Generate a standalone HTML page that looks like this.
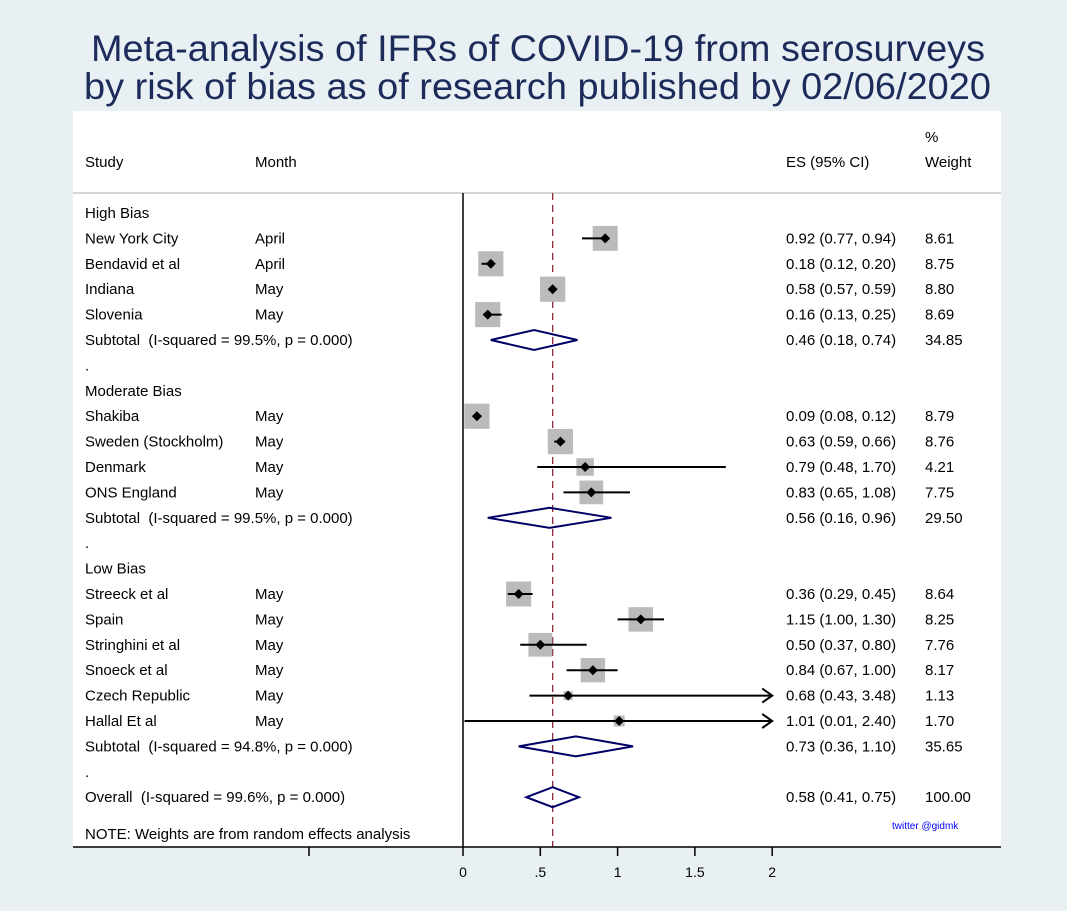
<!DOCTYPE html>
<html><head><meta charset="utf-8"><style>
body{margin:0;background:#e8f0f3;}
svg{display:block;font-family:"Liberation Sans",Arial,sans-serif;}
text{white-space:pre;}
</style></head><body>
<svg id="chart" width="1067" height="911" viewBox="0 0 1067 911" xmlns="http://www.w3.org/2000/svg">
<rect x="0" y="0" width="1067" height="911" fill="#e8f0f3"/>
<text x="91" y="61" textLength="894" lengthAdjust="spacingAndGlyphs" font-size="37" fill="#1c2b5a">Meta-analysis of IFRs of COVID-19 from serosurveys</text>
<text x="84" y="99" textLength="907" lengthAdjust="spacingAndGlyphs" font-size="37" fill="#1c2b5a">by risk of bias as of research published by 02/06/2020</text>
<rect x="73" y="111" width="928" height="736" fill="#fff"/>
<line x1="73" y1="193" x2="1001" y2="193" stroke="#c8c8c8" stroke-width="1.5"/>
<g font-size="15" fill="#000">
<text x="85" y="167">Study</text>
<text x="255" y="167">Month</text>
<text x="786" y="167">ES (95% CI)</text>
<text x="925" y="142">%</text>
<text x="925" y="167">Weight</text>
</g>
<g id="rows"></g>
<g id="marks"></g>
<line x1="463" y1="193" x2="463" y2="847" stroke="#000" stroke-width="1.5"/>
<line x1="73" y1="847" x2="1001" y2="847" stroke="#000" stroke-width="1.5"/>
<line x1="309" y1="847" x2="309" y2="856" stroke="#000" stroke-width="1.5"/>
<g id="ticks"></g>
<text x="85" y="839" font-size="15">NOTE: Weights are from random effects analysis</text>
<text x="892" y="829" font-size="10" fill="#0000ff">twitter @gidmk</text>
</svg>
<script>
const labels=["High Bias","New York City","Bendavid et al","Indiana","Slovenia","Subtotal  (I-squared = 99.5%, p = 0.000)",".","Moderate Bias","Shakiba","Sweden (Stockholm)","Denmark","ONS England","Subtotal  (I-squared = 99.5%, p = 0.000)",".","Low Bias","Streeck et al","Spain","Stringhini et al","Snoeck et al","Czech Republic","Hallal Et al","Subtotal  (I-squared = 94.8%, p = 0.000)",".","Overall  (I-squared = 99.6%, p = 0.000)"];
const months=["","April","April","May","May","","","","May","May","May","May","","","","May","May","May","May","May","May","","",""];
const kinds=["h","s","s","s","s","d","b","h","s","s","s","s","d","b","h","s","s","s","s","s","s","d","b","d"];
const es=[null,0.92,0.18,0.58,0.16,0.46,null,null,0.09,0.63,0.79,0.83,0.56,null,null,0.36,1.15,0.50,0.84,0.68,1.01,0.73,null,0.58];
const lo=[null,0.77,0.12,0.57,0.13,0.18,null,null,0.08,0.59,0.48,0.65,0.16,null,null,0.29,1.00,0.37,0.67,0.43,0.01,0.36,null,0.41];
const hi=[null,0.94,0.20,0.59,0.25,0.74,null,null,0.12,0.66,1.70,1.08,0.96,null,null,0.45,1.30,0.80,1.00,3.48,2.40,1.10,null,0.75];
const weights=[null,8.61,8.75,8.80,8.69,34.85,null,null,8.79,8.76,4.21,7.75,29.50,null,null,8.64,8.25,7.76,8.17,1.13,1.70,35.65,null,100.00];
const tickVals=[0,0.5,1,1.5,2];
const tickLabels=["0",".5","1","1.5","2"];
const overallES=0.58;
const NS="http://www.w3.org/2000/svg";
const xs=v=>463+154.6*v;
const ys=i=>213+25.4*i;
const XMAX=2;
function mk(tag,attrs,parent){const e=document.createElementNS(NS,tag);for(const k in attrs)e.setAttribute(k,attrs[k]);parent.appendChild(e);return e;}
const rows=document.getElementById('rows'),marks=document.getElementById('marks'),ticks=document.getElementById('ticks');
const f=v=>v.toFixed(2);
const dl=mk('line',{x1:xs(overallES),y1:193,x2:xs(overallES),y2:847,stroke:'#8b2a3a','stroke-width':1.3,'stroke-dasharray':'7,5'},marks);


labels.forEach((lab,i)=>{
  const y=ys(i);
  const t=mk('text',{x:85,y:y+5,'font-size':15},rows);t.textContent=lab;
  
  
  if(months[i]){const m=mk('text',{x:255,y:y+5,'font-size':15},rows);m.textContent=months[i];
    
    }
  if(es[i]!==null){
    const e=mk('text',{x:786,y:y+5,'font-size':15},rows);e.textContent=f(es[i])+" ("+f(lo[i])+", "+f(hi[i])+")";
    
    
    const w=mk('text',{x:925,y:y+5,'font-size':15},rows);w.textContent=f(weights[i]);
    
    
  }
  if(kinds[i]==='s'){
    const s=25*Math.sqrt(weights[i]/8.61);
    const b=mk('rect',{x:xs(es[i])-s/2,y:y-s/2,width:s,height:s,fill:'#bbbbbb'},marks);
    
    
    const xr=xs(Math.min(hi[i],XMAX));
    const l=mk('line',{x1:xs(lo[i]),y1:y,x2:xr,y2:y,stroke:'#000','stroke-width':2},marks);
    
    
    if(hi[i]>XMAX){
      const a=mk('polyline',{points:(xr-10)+","+(y-7)+" "+xr+","+y+" "+(xr-10)+","+(y+7),fill:'none',stroke:'#000','stroke-width':2},marks);
      
      
    }
    const c=xs(es[i]);
    const d=mk('polygon',{points:(c-5)+","+y+" "+c+","+(y-5)+" "+(c+5)+","+y+" "+c+","+(y+5),fill:'#000'},marks);
    
    
  } else if(kinds[i]==='d'){
    const d=mk('polygon',{points:xs(lo[i])+","+y+" "+xs(es[i])+","+(y-10)+" "+xs(hi[i])+","+y+" "+xs(es[i])+","+(y+10),fill:'none',stroke:'#000066','stroke-width':2},marks);
    
    
  }
});
tickVals.forEach((v,i)=>{
  const l=mk('line',{x1:xs(v),y1:847,x2:xs(v),y2:856,stroke:'#000','stroke-width':1.5},ticks);
  
  
  const t=mk('text',{x:xs(v),y:877,'text-anchor':'middle','font-size':14},ticks);t.textContent=tickLabels[i];
  
  
});
</script>
</body></html>
